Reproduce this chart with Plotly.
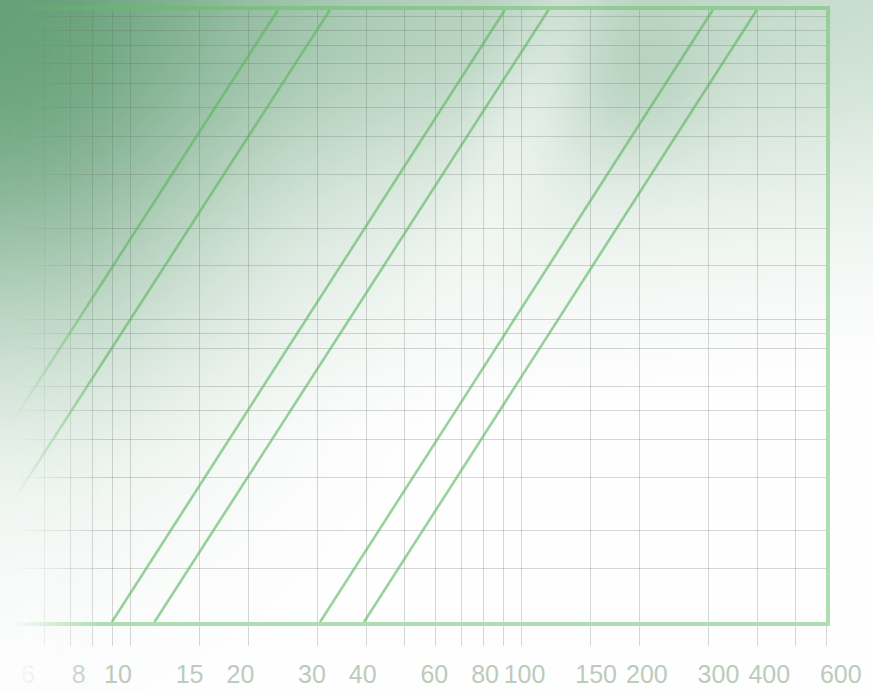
import base64
import struct
import zlib

import numpy as np
import plotly.graph_objects as go

# ---------------- data ----------------
x_grid = [5, 6, 7, 8, 9, 10, 15, 20, 30, 40, 50, 60, 70, 80, 90, 100,
          150, 200, 300, 400, 500, 600]
x_labels = [6, 8, 10, 15, 20, 30, 40, 60, 80, 100, 150, 200, 300, 400, 600]
x_label_text = ["6", "8", "10", "15", "20", "30", "40", "60", "80", "100",
                "150", "200", "300", "400", "600"]
y_grid = [0.1, 0.15, 0.2, 0.3, 0.4, 0.5, 0.6, 0.8, 0.9, 1,
          1.5, 2, 3, 4, 5, 6, 7, 8, 9, 10]

line_y = [0.1, 10.5]
line_a_x = [2.33, 23.8]
line_b_x = [3.16, 32.3]
line_c_x = [8.95, 90.5]
line_d_x = [11.5, 117.0]
line_e_x = [30.5, 308.0]
line_f_x = [39.5, 399.0]

x_min, x_max = 4.63, 600
y_min, y_max = 0.1, 10.5

# ---------------- geometry ----------------
W, H = 873, 691
M_L, M_R, M_T, M_B = 0, 0, 10, 69
PLOT_RIGHT_PX = 826
plot_h = H - M_T - M_B

# label axis (labels in the picture sit on a slightly wider log scale)
lab_lo = 0.7097
lab_hi = lab_lo + W / 406.5


# ---------------- background (decorative gradient) ----------------
def png_uri(arr):
    h, w, _ = arr.shape
    raw = b"".join(b"\x00" + arr[i].tobytes() for i in range(h))

    def chunk(tag, data):
        return (struct.pack(">I", len(data)) + tag + data +
                struct.pack(">I", zlib.crc32(tag + data) & 0xFFFFFFFF))

    png = (b"\x89PNG\r\n\x1a\n" +
           chunk(b"IHDR", struct.pack(">IIBBBBB", w, h, 8, 6, 0, 0, 0)) +
           chunk(b"IDAT", zlib.compress(raw, 9)) + chunk(b"IEND", b""))
    return "data:image/png;base64," + base64.b64encode(png).decode()


step = 3
px, py = np.meshgrid(np.arange(0, W, step) + step / 2,
                     np.arange(0, H, step) + step / 2)
corner = 0.85 * np.exp(-((px / 240) ** 2 + (py / 340) ** 2))
band = 0.45 * np.exp(-(py / 170) ** 2) * (1 - 0.6 * px / W)
lin = 0.22 * np.clip(1 - py / 470 - 0.2 * px / W, 0, 1)
blob = 0.15 * np.exp(-(((px - 640) / 70) ** 2 + ((py - 80) / 80) ** 2))
amt = 1 - (1 - corner) * (1 - band) * (1 - lin) * (1 - blob)
ddx, ddy = -110.0, 300.0
nn = np.hypot(ddx, ddy)
perp = ((px - 570) * ddy - py * ddx) / nn
along = ((px - 570) * ddx + py * ddy) / nn
streak = np.exp(-(perp / 50) ** 2) * np.exp(-((along - 150) / 200) ** 2)
amt = np.clip(amt * (1 - 0.45 * streak), 0, 1)
dark = np.array([92, 155, 112], dtype=float)
rgb = 255 - amt[..., None] * (255 - dark)
bg = np.concatenate([rgb, np.full(amt.shape + (1,), 255.0)], axis=2)
bg_img = png_uri(np.clip(bg, 0, 255).astype(np.uint8))

fade = np.clip((105 - px) / 92, 0, 1) ** 1.1
ov = np.concatenate([rgb, (fade * 255)[..., None]], axis=2)
ov_img = png_uri(np.clip(ov, 0, 255).astype(np.uint8))

img_common = dict(xref="paper", yref="paper", x=0, y=1 + M_T / plot_h,
                  sizex=1, sizey=H / plot_h, xanchor="left", yanchor="top",
                  sizing="stretch")

# ---------------- figure ----------------
fig = go.Figure()
line_style = dict(color="rgba(90,182,92,0.62)", width=2.6)
for xs in [line_a_x, line_b_x, line_c_x, line_d_x, line_e_x, line_f_x]:
    fig.add_trace(go.Scatter(x=xs, y=line_y, mode="lines", line=line_style,
                             hoverinfo="skip", showlegend=False))

# invisible carrier for the label axis
fig.add_trace(go.Scatter(x=x_labels, y=[0.5] * len(x_labels), xaxis="x2",
                         yaxis="y2", mode="markers",
                         marker=dict(opacity=0), hoverinfo="skip",
                         showlegend=False))

grid_col = "rgba(95,105,95,0.26)"
frame_col = "rgba(100,190,100,0.5)"

fig.update_layout(
    width=W, height=H,
    margin=dict(l=M_L, r=M_R, t=M_T, b=M_B, pad=0),
    paper_bgcolor="white",
    plot_bgcolor="rgba(0,0,0,0)",
    showlegend=False,
    xaxis=dict(type="log", range=[np.log10(x_min), np.log10(x_max)],
               domain=[0, PLOT_RIGHT_PX / W], anchor="y",
               tickmode="array", tickvals=x_grid, showticklabels=False,
               ticks="outside", ticklen=20, tickwidth=1, tickcolor=grid_col,
               showgrid=True, gridcolor=grid_col, gridwidth=1,
               showline=True, linecolor=frame_col, linewidth=4, mirror=True,
               zeroline=False, automargin=False, fixedrange=True),
    yaxis=dict(type="log", range=[np.log10(y_min), np.log10(y_max)],
               domain=[0, 1], anchor="x", side="right",
               tickmode="array", tickvals=y_grid, showticklabels=False,
               ticks="", showgrid=True, gridcolor=grid_col, gridwidth=1,
               showline=True, linecolor=frame_col, linewidth=4, mirror=False,
               zeroline=False, automargin=False, fixedrange=True),
    xaxis2=dict(type="log", range=[lab_lo, lab_hi], domain=[0, 1],
                anchor="y2", tickmode="array", tickvals=x_labels,
                ticktext=x_label_text, ticks="", showgrid=False,
                showline=False, zeroline=False, automargin=False,
                ticklabelstandoff=35,
                tickfont=dict(family="Liberation Sans", size=25,
                              color="#bccbbc"),
                fixedrange=True),
    yaxis2=dict(domain=[0, 1], range=[0, 1], visible=False, anchor="x2",
                fixedrange=True),
    images=[dict(source=bg_img, layer="below", **img_common),
            dict(source=ov_img, layer="above", **img_common)],
)

fig.write_html("out.html",
               config={"displayModeBar": False, "staticPlot": True},
               post_script="document.body.style.margin='0';")
